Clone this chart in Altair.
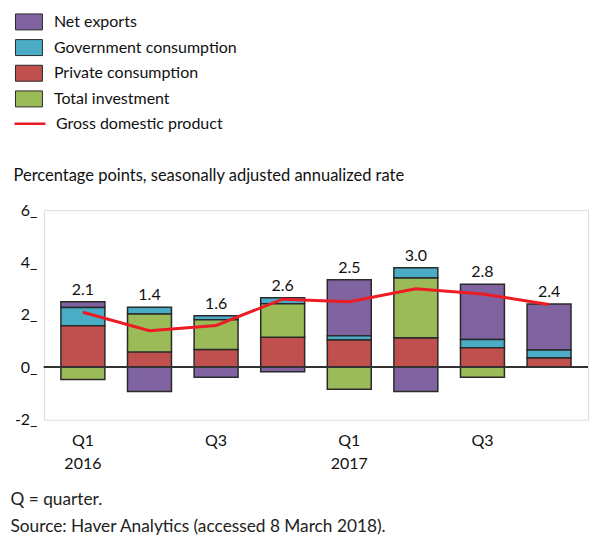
import altair as alt
import pandas as pd

quarters = ["Q1 2016", "Q2 2016", "Q3 2016", "Q4 2016", "Q1 2017", "Q2 2017", "Q3 2017", "Q4 2017"]
net_exports = [0.22, -0.92, -0.38, -0.17, 2.13, -0.92, 2.11, 1.76]
government = [0.69, 0.25, 0.15, 0.23, 0.17, 0.39, 0.31, 0.29]
private = [1.59, 0.59, 0.68, 1.15, 1.04, 1.13, 0.75, 0.37]
investment = [-0.46, 1.45, 1.14, 1.28, -0.84, 2.28, -0.38, 0.0]
gdp = [2.1, 1.4, 1.6, 2.6, 2.5, 3.0, 2.8, 2.4]

components = ["Net exports", "Government consumption", "Private consumption", "Total investment"]
colors = ["#8064A2", "#4BACC6", "#C0504D", "#9BBB59"]
stack_order = {"Private consumption": 0, "Total investment": 1, "Government consumption": 2, "Net exports": 3}
series = {
    "Net exports": net_exports,
    "Government consumption": government,
    "Private consumption": private,
    "Total investment": investment,
}

rows = []
for comp, vals in series.items():
    for q, v in zip(quarters, vals):
        rows.append({"quarter": q, "component": comp, "value": v, "order": stack_order[comp]})
long_df = pd.DataFrame(rows)

tops = [sum(max(series[c][i], 0) for c in components) for i in range(len(quarters))]
gdp_df = pd.DataFrame({"quarter": quarters, "gdp": gdp, "top": tops, "series": "Gross domestic product"})

FONT = "Lato"

x_enc = alt.X(
    "quarter:N",
    sort=quarters,
    scale=alt.Scale(paddingInner=0.34, paddingOuter=0.255),
    axis=alt.Axis(
        title=["Q = quarter.", "Source: Haver Analytics (accessed 8 March 2018)."],
        titleX=-34,
        titleY=85,
        titleAlign="left",
        titleAnchor="start",
        titleBaseline="alphabetic",
        titleFontSize=17.3,
        titleFontWeight="normal",
        titleColor="#222",
        titleLineHeight=27,
        labelAngle=0,
        labelFontSize=16,
        labelColor="#111",
        labelPadding=13,
        labelLineHeight=23,
        labelBaseline="top",
        labelExpr="slice(datum.value,0,2)=='Q1' ? ['Q1', slice(datum.value,3)] : (slice(datum.value,0,2)=='Q3' ? 'Q3' : '')",
        domain=False,
        ticks=False,
    ),
)

y_scale = alt.Scale(domain=[-2, 6], nice=False)

bars = alt.Chart(long_df).mark_bar(stroke="#2a2a2a", strokeWidth=1.5).encode(
    x=x_enc,
    y=alt.Y(
        "value:Q",
        stack="zero",
        scale=y_scale,
        axis=alt.Axis(
            values=[-2, 0, 2, 4, 6],
            title="Percentage points, seasonally adjusted annualized rate",
            titleAngle=0,
            titleX=-31,
            titleY=-35,
            titleAlign="left",
            titleBaseline="middle",
            titleFontSize=16.5,
            titleFontWeight="normal",
            titleColor="#111",
            labelFontSize=16,
            labelColor="#111",
            labelPadding=7,
            labelExpr="(datum.value < 0 ? '-' + abs(datum.value) : '' + datum.value) + '_'",
            domain=False,
            ticks=False,
            grid=False,
        ),
    ),
    fill=alt.Fill(
        "component:N",
        scale=alt.Scale(domain=components, range=colors),
        legend=alt.Legend(
            title=None,
            orient="none",
            legendX=-25.5,
            legendY=-199,
            symbolType="M-1.35,-0.8L1.35,-0.8L1.35,0.8L-1.35,0.8Z",
            symbolSize=400,
            symbolStrokeColor="#2a2a2a",
            symbolStrokeWidth=1,
            symbolOpacity=1,
            labelFontSize=16,
            labelColor="#111",
            labelOffset=14.5,
            labelLimit=400,
            rowPadding=4.7,
            padding=0,
        ),
    ),
    order=alt.Order("order:Q"),
)

zero = alt.Chart(gdp_df).mark_rule(color="#333", strokeWidth=1.5).encode(y=alt.datum(0))

line = alt.Chart(gdp_df).mark_line(strokeWidth=3).encode(
    x=alt.X("quarter:N", sort=quarters),
    y=alt.Y("gdp:Q", scale=y_scale),
    stroke=alt.Stroke(
        "series:N",
        scale=alt.Scale(domain=["Gross domestic product"], range=["#ED1C24"]),
        legend=alt.Legend(
            title=None,
            orient="none",
            legendX=-31,
            legendY=-103.5,
            symbolType="stroke",
            symbolSize=961,
            symbolStrokeWidth=2.5,
            labelFontSize=16,
            labelColor="#111",
            labelOffset=9,
            labelLimit=400,
            padding=0,
        ),
    ),
)

labels = alt.Chart(gdp_df).mark_text(baseline="bottom", dy=-4, fontSize=16, color="#111", font=FONT).encode(
    x=alt.X("quarter:N", sort=quarters),
    y=alt.Y("top:Q", scale=y_scale),
    text=alt.Text("gdp:Q", format=".1f"),
)

chart = (
    alt.layer(bars, zero, line, labels)
    .properties(width=545, height=210, padding={"left": 2, "top": 3, "right": 0, "bottom": 0})
    .configure_view(stroke=None)
    .configure(font=FONT)
)

chart.save("out.html", embed_options={"renderer": "svg", "actions": False})
